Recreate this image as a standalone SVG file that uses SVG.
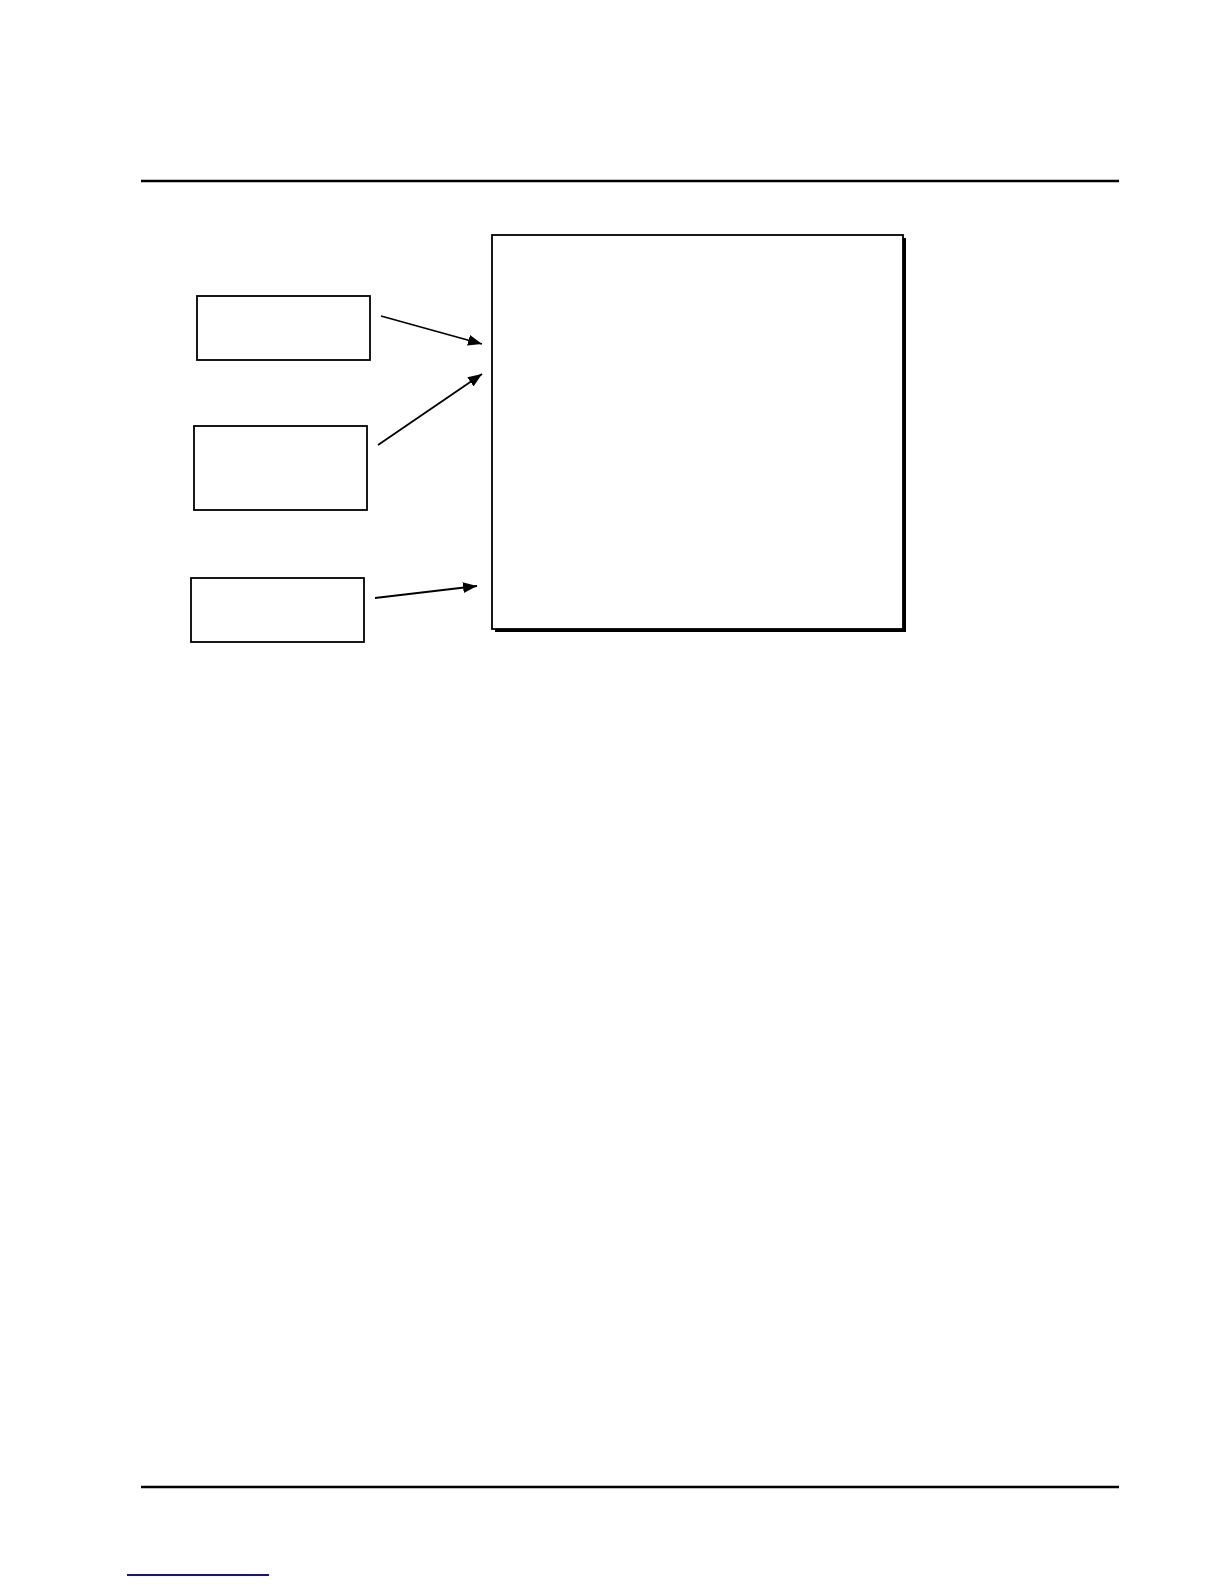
<svg xmlns="http://www.w3.org/2000/svg" width="1224" height="1584" viewBox="0 0 1224 1584">
<style>
.box{fill:#fff;stroke:#000;stroke-width:1.8}
.rule{stroke:#000;stroke-width:2.6}
.conn{stroke:#000;stroke-width:1.8;fill:none}
</style>
<defs>
<marker id="ah" viewBox="0 0 14 11" refX="14" refY="5.5" markerWidth="14" markerHeight="11" markerUnits="userSpaceOnUse" orient="auto">
<path d="M0,0 L14,5.5 L0,11 z" fill="#000"/>
</marker>
</defs>
<rect width="1224" height="1584" fill="#fff"/>
<line class="rule" x1="141" y1="181" x2="1119" y2="181"/>
<line class="rule" x1="141" y1="1487" x2="1119" y2="1487"/>
<line x1="127" y1="1575" x2="269" y2="1575" stroke="#14148a" stroke-width="1.8"/>
<g id="main">
<rect x="495" y="238" width="411" height="394" fill="#000"/>
<rect class="box" x="492" y="235" width="411" height="394"/>
</g>
<g id="src1"><rect class="box" x="197" y="296" width="173" height="64"/></g>
<g id="src2"><rect class="box" x="194" y="426" width="173" height="84"/></g>
<g id="src3"><rect class="box" x="191" y="578" width="173" height="64"/></g>
<g id="connectors">
<line class="conn" x1="381" y1="316" x2="482" y2="344" marker-end="url(#ah)"/>
<line class="conn" x1="378" y1="445" x2="482" y2="374" marker-end="url(#ah)"/>
<line class="conn" x1="375" y1="598" x2="477" y2="586" marker-end="url(#ah)"/>
</g>
</svg>
